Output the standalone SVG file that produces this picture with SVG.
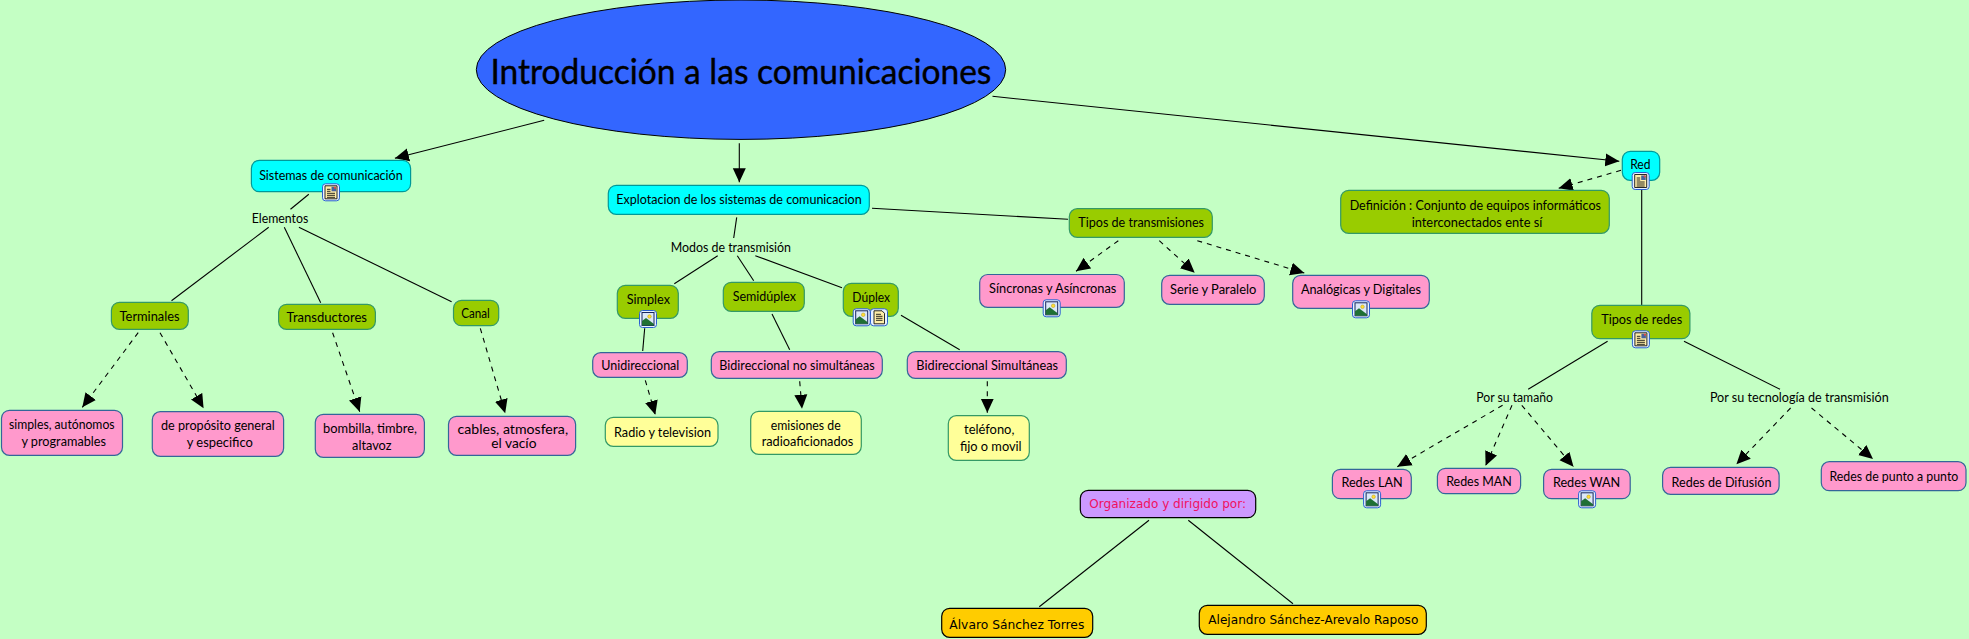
<svg xmlns="http://www.w3.org/2000/svg" width="1969" height="639" viewBox="0 0 1969 639">
<style>
text{font-family:"Lato","Open Sans","Liberation Sans",sans-serif;font-size:13.5px;fill:#000;text-anchor:middle;dominant-baseline:central}
.v{font-family:"DejaVu Sans","Liberation Sans",sans-serif;font-size:13px}
.n{stroke-width:1.2}
.cy{fill:#0ff;stroke:#009999}
.gr{fill:#9c0;stroke:#339966}
.pk{fill:#f9c;stroke:#336699}
.ye{fill:#ff9;stroke:#339966}
.or{fill:#fc0;stroke:#000}
.pu{fill:#c9f;stroke:#000}
.l{fill:none;stroke:#000;stroke-width:1.1}
.a{marker-end:url(#arrow)}
.d{stroke-dasharray:5 5;marker-end:url(#arrow)}
</style>
<defs>
<marker id="arrow" markerUnits="userSpaceOnUse" markerWidth="15" markerHeight="14" refX="14" refY="7" orient="auto"><path d="M0,0.5 L14,7 L0,13.5 z" fill="#000"/></marker>
<g id="img"><rect x="-8.5" y="-8.5" width="17" height="17" rx="3" fill="#e8f2ff" stroke="#2a5fd0"/><rect x="-6" y="-6.5" width="12" height="13" fill="#dbe8f8" stroke="#14245c"/><circle cx="1.5" cy="-2.5" r="1.8" fill="#fd3" stroke="#a80" stroke-width=".4"/><path d="M-6,6.5 L-6,2 L-2,-1 L6,5 L6,6.5 z" fill="#1f7034"/></g>
<g id="doc"><rect x="-8.5" y="-8.5" width="17" height="17" rx="3" fill="#e8f2ff" stroke="#2a5fd0"/><path d="M-5,-6.5 H3 L5.5,-4 V6.5 H-5 z" fill="#ffeea8" stroke="#111" stroke-width=".9"/><path d="M-3,-3 H2 M-3,-1 H3.5 M-3,1 H3.5 M-3,3 H3.5" stroke="#111" stroke-width=".9"/></g>
<g id="both"><rect x="-8.5" y="-8.5" width="17" height="17" rx="3" fill="#e8f2ff" stroke="#2a5fd0"/><path d="M-6,-6.5 H6 V6.5 H-6 z" fill="#ffeea8" stroke="#111" stroke-width=".9"/><path d="M-4,-3 H-0.5 M-4,-1 H-0.5 M-4,1 H4 M-4,3 H4 M-4,5 H4" stroke="#111" stroke-width=".9"/><rect x="0.5" y="-5.5" width="4.5" height="4.5" fill="#46629e"/><circle cx="4" cy="-4.5" r="1" fill="#e44"/></g>
</defs>
<rect width="1969" height="639" fill="#c4ffc4"/>
<g id="connectors">
<line class="l a" x1="544.2" y1="120.3" x2="394.9" y2="158.3"/>
<line class="l a" x1="739.3" y1="143.3" x2="739.3" y2="182.3"/>
<line class="l a" x1="992.5" y1="96.3" x2="1619.3" y2="161.3"/>
<line class="l" x1="308.8" y1="194.3" x2="290.5" y2="209.3"/>
<line class="l" x1="268.7" y1="227.3" x2="171.5" y2="300.7"/>
<line class="l" x1="284.3" y1="227.3" x2="320.7" y2="302.7"/>
<line class="l" x1="298.9" y1="227.3" x2="451.6" y2="301.7"/>
<line class="l d" x1="138.2" y1="332.7" x2="82.3" y2="407.3"/>
<line class="l d" x1="160" y1="332.7" x2="203.6" y2="408.3"/>
<line class="l d" x1="332.6" y1="332.7" x2="359.7" y2="411.7"/>
<line class="l d" x1="480.3" y1="328.3" x2="505.2" y2="413.3"/>
<line class="l" x1="736.7" y1="217.3" x2="733.7" y2="238"/>
<line class="l" x1="717.7" y1="255.7" x2="674.3" y2="283.7"/>
<line class="l" x1="737.3" y1="255.7" x2="753.7" y2="280.7"/>
<line class="l" x1="755.3" y1="255.7" x2="842" y2="287.7"/>
<line class="l" x1="644.7" y1="328.3" x2="642.7" y2="351"/>
<line class="l" x1="772" y1="314" x2="789.7" y2="349.7"/>
<line class="l" x1="901" y1="315.3" x2="959.7" y2="349.7"/>
<line class="l d" x1="645.3" y1="380.3" x2="655.3" y2="414.7"/>
<line class="l d" x1="799.7" y1="381.3" x2="802" y2="408.7"/>
<line class="l d" x1="987.3" y1="381.3" x2="987.3" y2="412.7"/>
<line class="l" x1="872" y1="208.3" x2="1068" y2="219.3"/>
<line class="l d" x1="1118.3" y1="240.7" x2="1076" y2="271.3"/>
<line class="l d" x1="1159.3" y1="240.7" x2="1194.7" y2="272.7"/>
<line class="l d" x1="1197.3" y1="240.7" x2="1304.3" y2="273"/>
<line class="l d" x1="1621" y1="170.3" x2="1558.7" y2="188.3"/>
<line class="l" x1="1641.7" y1="190" x2="1641.7" y2="305"/>
<line class="l" x1="1607.6" y1="341.3" x2="1528.2" y2="389.3"/>
<line class="l" x1="1684" y1="341.3" x2="1780" y2="389.3"/>
<line class="l d" x1="1502.6" y1="405.3" x2="1397.3" y2="466.7"/>
<line class="l d" x1="1512" y1="405.3" x2="1485.6" y2="465.7"/>
<line class="l d" x1="1521.8" y1="405.3" x2="1573.5" y2="466.7"/>
<line class="l d" x1="1790.6" y1="408" x2="1736.4" y2="464.3"/>
<line class="l d" x1="1811.5" y1="408" x2="1873" y2="459"/>
<line class="l" x1="1149" y1="520.3" x2="1039.3" y2="606.7"/>
<line class="l" x1="1188.3" y1="520.3" x2="1293" y2="603.7"/>
</g>
<g id="n-title"><ellipse cx="741" cy="69.7" rx="264.7" ry="69.7" fill="#3366ff" stroke="#000" stroke-width="1"/><text x="740.9" y="70" style="font-size:34px;stroke:#000;stroke-width:.4" textLength="501" lengthAdjust="spacingAndGlyphs">Introducción a las comunicaciones</text></g>
<g id="n-sistemas"><rect class="n cy" x="251.4" y="160.3" width="159.2" height="31.4" rx="8"/><text x="330.9" y="174.7" textLength="143.5" lengthAdjust="spacingAndGlyphs">Sistemas de comunicación</text><use href="#both" x="331" y="192.3"/></g>
<g id="n-elementos"><text x="280" y="218.3" textLength="56.6" lengthAdjust="spacingAndGlyphs">Elementos</text></g>
<g id="n-terminales"><rect class="n gr" x="111.4" y="302.3" width="76.9" height="27" rx="8"/><text x="149.6" y="316.3" textLength="60" lengthAdjust="spacingAndGlyphs">Terminales</text></g>
<g id="n-transductores"><rect class="n gr" x="278.6" y="304.3" width="96.8" height="25" rx="8"/><text x="326.8" y="317.3" textLength="80.4" lengthAdjust="spacingAndGlyphs">Transductores</text></g>
<g id="n-canal"><rect class="n gr" x="453.5" y="300.3" width="45.2" height="25.4" rx="8"/><text x="475.5" y="313.3" textLength="28.7" lengthAdjust="spacingAndGlyphs">Canal</text></g>
<g id="n-simples"><rect class="n pk" x="1.5" y="410.3" width="121" height="45" rx="8"/><text x="61.8" y="423.7" textLength="105.6" lengthAdjust="spacingAndGlyphs">simples, autónomos</text><text x="63.7" y="440.7" textLength="84.6" lengthAdjust="spacingAndGlyphs">y programables</text></g>
<g id="n-proposito"><rect class="n pk" x="152.3" y="411.7" width="131.3" height="44.6" rx="8"/><text x="217.9" y="425" textLength="113.7" lengthAdjust="spacingAndGlyphs">de propósito general</text><text x="219.8" y="441.7" textLength="66.2" lengthAdjust="spacingAndGlyphs">y especifico</text></g>
<g id="n-bombilla"><rect class="n pk" x="315.3" y="414.3" width="109.1" height="43" rx="8"/><text x="370" y="428.3" textLength="93.8" lengthAdjust="spacingAndGlyphs">bombilla, timbre,</text><text x="371.8" y="445" textLength="39.4" lengthAdjust="spacingAndGlyphs">altavoz</text></g>
<g id="n-cables"><rect class="n pk" x="448.5" y="416.3" width="127.1" height="39" rx="8"/><text x="512.8" y="429" textLength="110.6" lengthAdjust="spacingAndGlyphs">cables, atmosfera,</text><text x="513.9" y="443.3" textLength="45.2" lengthAdjust="spacingAndGlyphs">el vacío</text></g>
<g id="n-explotacion"><rect class="n cy" x="608.3" y="185.3" width="261" height="29" rx="8"/><text x="739" y="199.3" textLength="245.3" lengthAdjust="spacingAndGlyphs">Explotacion de los sistemas de comunicacion</text></g>
<g id="n-modos"><text x="730.8" y="246.7" textLength="120.3" lengthAdjust="spacingAndGlyphs">Modos de transmisión</text></g>
<g id="n-simplex"><rect class="n gr" x="617.3" y="285.3" width="61" height="33" rx="8"/><text x="648.3" y="299.3" textLength="43.3" lengthAdjust="spacingAndGlyphs">Simplex</text><use href="#img" x="648" y="319"/></g>
<g id="n-semiduplex"><rect class="n gr" x="723.3" y="282.3" width="81" height="29" rx="8"/><text x="764.3" y="295.7" textLength="63.3" lengthAdjust="spacingAndGlyphs">Semidúplex</text></g>
<g id="n-duplex"><rect class="n gr" x="843.3" y="283.3" width="55" height="33" rx="8"/><text x="871.2" y="296.7" textLength="37.7" lengthAdjust="spacingAndGlyphs">Dúplex</text><use href="#img" x="861.7" y="317.3"/><use href="#doc" x="879" y="317.3"/></g>
<g id="n-uni"><rect class="n pk" x="592.7" y="352.7" width="94.6" height="24.6" rx="8"/><text x="640.3" y="365.3" textLength="78" lengthAdjust="spacingAndGlyphs">Unidireccional</text></g>
<g id="n-bino"><rect class="n pk" x="711.3" y="351.7" width="171" height="26.6" rx="8"/><text x="797" y="365.3" textLength="155.3" lengthAdjust="spacingAndGlyphs">Bidireccional no simultáneas</text></g>
<g id="n-bisi"><rect class="n pk" x="907.3" y="351.7" width="159" height="26.6" rx="8"/><text x="987.2" y="365.3" textLength="141.7" lengthAdjust="spacingAndGlyphs">Bidireccional Simultáneas</text></g>
<g id="n-radio"><rect class="n ye" x="605.3" y="417.3" width="112.7" height="29" rx="8"/><text x="662.5" y="431.7" textLength="97" lengthAdjust="spacingAndGlyphs">Radio y television</text></g>
<g id="n-emisiones"><rect class="n ye" x="750.7" y="411.3" width="110.6" height="43" rx="8"/><text x="805.7" y="424.7" textLength="70" lengthAdjust="spacingAndGlyphs">emisiones de</text><text x="807.5" y="441" textLength="91.7" lengthAdjust="spacingAndGlyphs">radioaficionados</text></g>
<g id="n-telefono"><rect class="n ye" x="948.3" y="415.7" width="81" height="44.6" rx="8"/><text x="989.2" y="428.7" textLength="50.3" lengthAdjust="spacingAndGlyphs">teléfono,</text><text x="990.8" y="445.7" textLength="61.7" lengthAdjust="spacingAndGlyphs">fijo o movil</text></g>
<g id="n-tipostrans"><rect class="n gr" x="1069.3" y="208.7" width="143" height="28.6" rx="8"/><text x="1141.2" y="222.3" textLength="125.7" lengthAdjust="spacingAndGlyphs">Tipos de transmisiones</text></g>
<g id="n-sincronas"><rect class="n pk" x="979.7" y="274.5" width="144.6" height="32.8" rx="8"/><text x="1052.7" y="287.7" textLength="127.3" lengthAdjust="spacingAndGlyphs">Síncronas y Asíncronas</text><use href="#img" x="1051.7" y="308.3"/></g>
<g id="n-serie"><rect class="n pk" x="1161.7" y="275.3" width="102.6" height="29" rx="8"/><text x="1213.2" y="289.3" textLength="86.3" lengthAdjust="spacingAndGlyphs">Serie y Paralelo</text></g>
<g id="n-analogicas"><rect class="n pk" x="1292.7" y="275.3" width="136.6" height="33" rx="8"/><text x="1361" y="289" textLength="120" lengthAdjust="spacingAndGlyphs">Analógicas y Digitales</text><use href="#img" x="1361" y="309.3"/></g>
<g id="n-red"><rect class="n cy" x="1622.3" y="151.3" width="37.4" height="29" rx="8"/><text x="1640.3" y="164" textLength="20.3" lengthAdjust="spacingAndGlyphs">Red</text><use href="#both" x="1640.7" y="181"/></g>
<g id="n-definicion"><rect class="n gr" x="1340.7" y="190.3" width="268.6" height="43" rx="8"/><text x="1475.3" y="205" textLength="251.3" lengthAdjust="spacingAndGlyphs">Definición : Conjunto de equipos informáticos</text><text x="1477" y="221.7" textLength="130.7" lengthAdjust="spacingAndGlyphs">interconectados ente sí</text></g>
<g id="n-tiposredes"><rect class="n gr" x="1591.8" y="305.3" width="98.1" height="33.4" rx="8"/><text x="1641.7" y="319.3" textLength="81" lengthAdjust="spacingAndGlyphs">Tipos de redes</text><use href="#both" x="1640.9" y="339.3"/></g>
<g id="n-tamano"><text x="1514.6" y="397" textLength="76.8" lengthAdjust="spacingAndGlyphs">Por su tamaño</text></g>
<g id="n-tecnologia"><text x="1799.3" y="396.7" textLength="178.8" lengthAdjust="spacingAndGlyphs">Por su tecnología de transmisión</text></g>
<g id="n-lan"><rect class="n pk" x="1332.4" y="469.3" width="78.9" height="29.4" rx="8"/><text x="1372.1" y="482.3" textLength="61.4" lengthAdjust="spacingAndGlyphs">Redes LAN</text><use href="#img" x="1372.1" y="499.3"/></g>
<g id="n-man"><rect class="n pk" x="1437.4" y="468.3" width="83.2" height="25.4" rx="8"/><text x="1479" y="481" textLength="65.7" lengthAdjust="spacingAndGlyphs">Redes MAN</text></g>
<g id="n-wan"><rect class="n pk" x="1543.6" y="469.3" width="86.6" height="29.4" rx="8"/><text x="1586.6" y="482.3" textLength="67.4" lengthAdjust="spacingAndGlyphs">Redes WAN</text><use href="#img" x="1587.1" y="499.3"/></g>
<g id="n-difusion"><rect class="n pk" x="1662.6" y="467.3" width="116.5" height="27" rx="8"/><text x="1721.5" y="481.7" textLength="99.8" lengthAdjust="spacingAndGlyphs">Redes de Difusión</text></g>
<g id="n-punto"><rect class="n pk" x="1821.3" y="461.7" width="144.7" height="29" rx="8"/><text x="1893.9" y="475.7" textLength="128.8" lengthAdjust="spacingAndGlyphs">Redes de punto a punto</text></g>
<g id="n-organizado"><rect class="n pu" x="1080.3" y="490.3" width="175.4" height="27.4" rx="8"/><text class="v" x="1167.7" y="503" style="fill:#f01060" textLength="156.7" lengthAdjust="spacingAndGlyphs">Organizado y dirigido por:</text></g>
<g id="n-alvaro"><rect class="n or" x="941.7" y="608.3" width="151" height="29" rx="8"/><text class="v" x="1016.8" y="624" textLength="135" lengthAdjust="spacingAndGlyphs">Álvaro Sánchez Torres</text></g>
<g id="n-alejandro"><rect class="n or" x="1199.3" y="605.3" width="227" height="29" rx="8"/><text class="v" x="1313.3" y="619.7" textLength="210" lengthAdjust="spacingAndGlyphs">Alejandro Sánchez-Arevalo Raposo</text></g>
</svg>
